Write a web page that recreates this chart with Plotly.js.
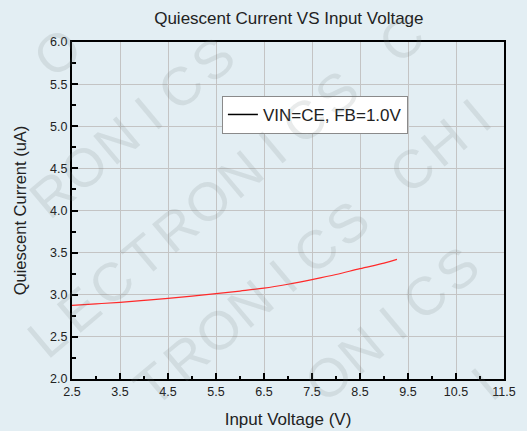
<!DOCTYPE html>
<html>
<head>
<meta charset="utf-8">
<script src="https://cdn.plot.ly/plotly-3.0.1.min.js"></script>
<style>html,body{margin:0;padding:0;background:#e3eef3;}#chart{width:527px;height:431px;}</style>
</head>
<body>
<div id="chart"></div>
<script>
// Data
var voltage = [2.5, 3.0, 3.5, 4.0, 4.5, 5.0, 5.5, 6.0, 6.5, 7.0, 7.5, 8.0, 8.5, 9.0, 9.27];
var current = [2.875, 2.892, 2.91, 2.933, 2.957, 2.984, 3.013, 3.044, 3.078, 3.125, 3.18, 3.24, 3.31, 3.375, 3.42];
var seriesName = "VIN=CE, FB=1.0V";
var chartTitle = "Quiescent Current VS Input Voltage";
var xTitle = "Input Voltage (V)";
var yTitle = "Quiescent Current (uA)";
var watermarkText = "CHIP ELECTRONICS ";

var W = 527, H = 431;
var M = {l: 72, r: 23, t: 42, b: 52};
var pw = W - M.l - M.r, ph = H - M.t - M.b;
var FONT = 'Liberation Sans, Arial, sans-serif';

// watermark: letters laid out along diagonal lines (layout decoration)
var ang = 40 * Math.PI / 180;
var dirx = Math.cos(ang), diry = -Math.sin(ang);
var step = 42;
var wmLines = [
  {b: 100, idx: 10, x: 25},
  {b: 238, idx: 9, x: 20},
  {b: 376, idx: 5, x: 15},
  {b: 514, idx: 7, x: 90},
  {b: 652, idx: 10, x: 296},
  {b: 790, idx: 11, x: 420}
];
var annotations = [];
var n = watermarkText.length;
var edge = 36;
wmLines.forEach(function (L) {
  var ax = L.x, ay = L.b - Math.tan(ang) * L.x;
  for (var k = -30; k <= 30; k++) {
    var i = L.idx + k;
    var ch = watermarkText.charAt(((i % n) + n) % n);
    if (ch === ' ') continue;
    var px = ax + k * step * dirx, py = ay + k * step * diry;
    if (px < edge || px > W - edge || py < edge || py > H - edge) continue;
    annotations.push({
      xref: 'paper', yref: 'paper',
      x: (px - M.l) / pw, y: (H - M.b - py) / ph,
      xanchor: 'center', yanchor: 'middle',
      text: ch, showarrow: false, textangle: -40,
      font: {family: FONT, size: 54, color: 'rgba(110,118,122,0.15)'}
    });
  }
});

var traces = [
  {x: voltage, y: current, type: 'scatter', mode: 'lines', line: {color: '#ff2a2a', width: 1.2, shape: 'spline'}, showlegend: false, hoverinfo: 'skip'},
  {x: [null], y: [null], type: 'scatter', mode: 'lines', name: seriesName, line: {color: '#000000', width: 1.5}, showlegend: true}
];

var axisCommon = {
  showline: true, linecolor: '#000', linewidth: 2, mirror: true,
  ticks: 'inside', ticklen: 6, tickwidth: 2, tickcolor: '#000',
  showgrid: true, gridcolor: '#c4c4c4', gridwidth: 1, zeroline: false,
  tickfont: {family: FONT, size: 12.5, color: '#222'},
  tickformat: '.1f'
};

var layout = {
  width: W, height: H,
  margin: M,
  paper_bgcolor: '#e3eef3', plot_bgcolor: '#e3eef3',
  title: {text: chartTitle, xref: 'paper', x: 0.502, xanchor: 'center', y: 0.958, yanchor: 'middle',
          font: {family: FONT, size: 17, color: '#222'}},
  xaxis: Object.assign({}, axisCommon, {
    range: [2.5, 11.5], tick0: 2.5, dtick: 1,
    minor: {dtick: 0.5, ticks: 'inside', ticklen: 3, tickwidth: 2, tickcolor: '#000', showgrid: false},
    title: {text: xTitle, standoff: 15, font: {family: FONT, size: 17, color: '#222'}}
  }),
  yaxis: Object.assign({}, axisCommon, {
    range: [2, 6], tick0: 2, dtick: 0.5,
    minor: {dtick: 0.25, ticks: 'inside', ticklen: 4, tickwidth: 2, tickcolor: '#000', showgrid: false},
    title: {text: yTitle, standoff: 19, font: {family: FONT, size: 16.5, color: '#222'}}
  }),
  legend: {x: 0.347, y: 0.84, xanchor: 'left', yanchor: 'top', bgcolor: '#ffffff', bordercolor: '#8a8a8a', borderwidth: 1,
           font: {family: FONT, size: 17, color: '#222'}},
  annotations: annotations
};

Plotly.newPlot('chart', traces, layout, {staticPlot: true, displayModeBar: false});
</script>
</body>
</html>
